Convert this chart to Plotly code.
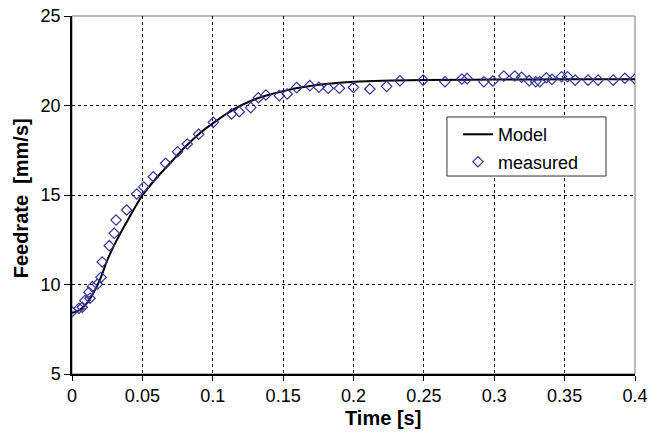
import plotly.graph_objects as go

# Model curve
model_t = [0, 0.005, 0.01, 0.015, 0.02, 0.025, 0.03, 0.035, 0.04, 0.045, 0.05, 0.06, 0.07,
           0.08, 0.09, 0.1, 0.11, 0.12, 0.13, 0.14, 0.15, 0.16, 0.17, 0.18, 0.19, 0.2,
           0.22, 0.25, 0.3, 0.35, 0.4]
model_v = [8.42, 8.55, 8.9, 9.5, 10.3, 11.35, 12.2, 12.95, 13.65, 14.35, 14.98, 15.95, 16.8,
           17.65, 18.4, 19.0, 19.55, 20.0, 20.35, 20.6, 20.8, 20.98, 21.1, 21.2, 21.27, 21.32,
           21.38, 21.42, 21.45, 21.46, 21.47]

# Measured points
meas_t = [0.0, 0.005, 0.0073, 0.0092, 0.012, 0.0128, 0.0145, 0.018, 0.0206, 0.0215, 0.0265,
          0.030, 0.0313, 0.0388, 0.046, 0.051, 0.0578, 0.0665, 0.075, 0.0819, 0.09, 0.1004,
          0.1134, 0.1188, 0.127, 0.1324, 0.1378, 0.1473, 0.1529, 0.1596, 0.169, 0.1754, 0.182,
          0.190, 0.2, 0.2116, 0.2235, 0.233, 0.2495, 0.265, 0.277, 0.2807, 0.2926, 0.299,
          0.3068, 0.3146, 0.3194, 0.3248, 0.3295, 0.3324, 0.337, 0.341, 0.3478, 0.352, 0.3575,
          0.3667, 0.3738, 0.3845, 0.3928, 0.40]
meas_v = [8.48, 8.67, 8.73, 9.1, 9.57, 9.23, 9.88, 10.01, 10.40, 11.26, 12.17, 12.86, 13.60,
          14.16, 15.06, 15.45, 16.02, 16.77, 17.42, 17.85, 18.39, 19.06, 19.53, 19.65, 19.88,
          20.43, 20.59, 20.55, 20.64, 21.0, 21.11, 21.02, 20.96, 20.96, 21.01, 20.92, 21.07,
          21.38, 21.42, 21.33, 21.48, 21.50, 21.33, 21.37, 21.65, 21.65, 21.58, 21.39, 21.33,
          21.33, 21.55, 21.46, 21.61, 21.61, 21.42, 21.42, 21.42, 21.42, 21.52, 21.48]

x_ticks = [0, 0.05, 0.1, 0.15, 0.2, 0.25, 0.3, 0.35, 0.4]
x_labels = ["0", "0.05", "0.1", "0.15", "0.2", "0.25", "0.3", "0.35", "0.4"]
y_ticks = [5, 10, 15, 20, 25]

font_family = "Liberation Sans, Arial, sans-serif"

fig = go.Figure()
fig.add_trace(go.Scatter(x=model_t, y=model_v, mode="lines", name="Model", legendgroup="a",
                         line=dict(color="black", width=2, shape="spline")))
fig.add_trace(go.Scatter(x=meas_t, y=meas_v, mode="markers", name="measured", legendgroup="b",
                         marker=dict(symbol="diamond-open", size=8,
                                     color="#34349a", line=dict(width=1.2, color="#34349a"))))

fig.update_layout(
    width=657, height=434,
    margin=dict(l=72, r=22, t=16, b=60, autoexpand=False),
    paper_bgcolor="white", plot_bgcolor="white",
    font=dict(family=font_family, size=18, color="black"),
    showlegend=True,
    legend=dict(x=0.6856, y=0.7204, xanchor="left", yanchor="top",
                bgcolor="rgba(0,0,0,0)", borderwidth=0,
                font=dict(size=18), itemwidth=30, tracegroupgap=1),
    shapes=[
        dict(type="rect", xref="paper", yref="paper", x0=0, y0=0, x1=1, y1=1,
             line=dict(color="#777", width=1), fillcolor="rgba(0,0,0,0)", layer="below"),
        dict(type="rect", xref="paper", yref="paper", x0=0.666, y0=0.553, x1=0.9485, y1=0.718,
             line=dict(color="#333", width=1), fillcolor="white", layer="above"),
    ],
    annotations=[
        dict(text="<b>Time [s]</b>", xref="paper", yref="paper", x=0.5524, y=-0.1229,
             xanchor="center", yanchor="middle", showarrow=False, font=dict(size=20)),
        dict(text="<b>Feedrate  [mm/s]</b>", xref="paper", yref="paper", x=-0.09, y=0.4916,
             xanchor="center", yanchor="middle", showarrow=False, textangle=-90,
             font=dict(size=20)),
    ],
)
fig.update_xaxes(range=[0, 0.4], tickvals=x_ticks, ticktext=x_labels, automargin=False,
                 showgrid=True, gridcolor="black", gridwidth=1, griddash="dot",
                 showline=True, linecolor="black", linewidth=1.5,
                 ticks="outside", ticklen=5, tickcolor="black",
                 zeroline=False, tickfont=dict(size=18))
fig.update_yaxes(range=[5, 25], tickvals=y_ticks, automargin=False,
                 showgrid=True, gridcolor="black", gridwidth=1, griddash="dot",
                 showline=True, linecolor="black", linewidth=1.5,
                 ticks="outside", ticklen=6, tickcolor="black",
                 zeroline=False, tickfont=dict(size=18))

fig.write_html("out.html", config={"displayModeBar": False},
               post_script="document.body.style.margin='0';document.body.style.overflow='hidden';")
